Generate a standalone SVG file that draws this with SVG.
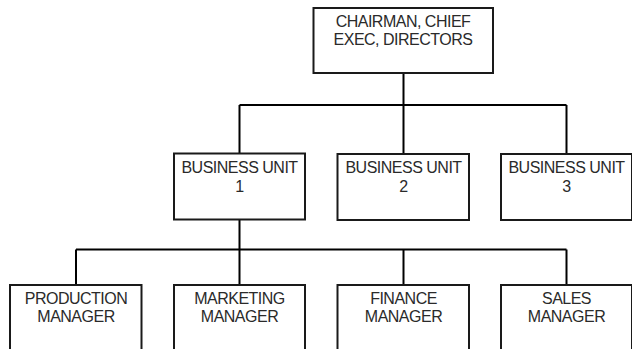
<svg xmlns="http://www.w3.org/2000/svg" width="632" height="349" viewBox="0 0 632 349">
<style>
.box{fill:#fff;stroke:#1a1a1a;stroke-width:2}
.ln{fill:none;stroke:#000;stroke-width:2}
text{font-family:"Liberation Sans",Arial,sans-serif;font-size:16px;fill:#2a2a2a;text-anchor:middle;letter-spacing:-0.5px}
</style>
<rect width="632" height="349" fill="#fff"/>
<g id="connectors">
<path class="ln" d="M403.5 73V105M239.5 105H566.5M239.5 105V153M403.5 105V154M566.5 105V154"/>
<path class="ln" d="M239.5 219V249.5M76 249.5H566.5M76 249.5V285M239.5 249.5V285M403.5 249.5V285M566.5 249.5V285"/>
</g>
<g id="chairman">
<rect class="box" x="313.5" y="8" width="179.5" height="65"/>
<text x="403" y="27">CHAIRMAN, CHIEF</text>
<text x="403" y="45">EXEC, DIRECTORS</text>
</g>
<g id="bu1">
<rect class="box" x="174" y="153.5" width="131" height="66"/>
<text x="239.5" y="173">BUSINESS UNIT</text>
<text x="239.5" y="191.5">1</text>
</g>
<g id="bu2">
<rect class="box" x="337.5" y="154" width="131.5" height="66"/>
<text x="403.5" y="173">BUSINESS UNIT</text>
<text x="403.5" y="191.5">2</text>
</g>
<g id="bu3">
<rect class="box" x="501" y="154" width="131" height="66"/>
<text x="566.5" y="173">BUSINESS UNIT</text>
<text x="566.5" y="191.5">3</text>
</g>
<g id="production">
<rect class="box" x="10" y="285" width="131.5" height="80"/>
<text x="76" y="303.5">PRODUCTION</text>
<text x="76" y="321.5">MANAGER</text>
</g>
<g id="marketing">
<rect class="box" x="174" y="285" width="131" height="80"/>
<text x="239.5" y="303.5">MARKETING</text>
<text x="239.5" y="321.5">MANAGER</text>
</g>
<g id="finance">
<rect class="box" x="337.5" y="285" width="131.5" height="80"/>
<text x="403.5" y="303.5">FINANCE</text>
<text x="403.5" y="321.5">MANAGER</text>
</g>
<g id="sales">
<rect class="box" x="501" y="285" width="131" height="80"/>
<text x="566.5" y="303.5">SALES</text>
<text x="566.5" y="321.5">MANAGER</text>
</g>
</svg>
